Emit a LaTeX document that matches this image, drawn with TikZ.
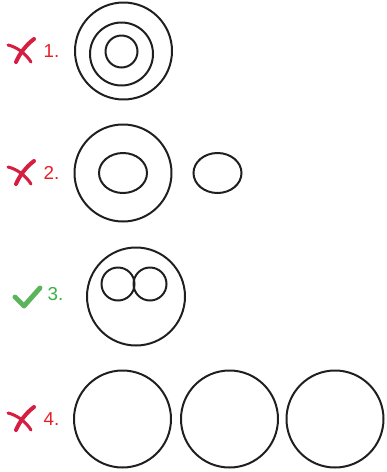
\documentclass[tikz,border=0pt]{standalone}
\usepackage{fontspec}
\setmainfont{Liberation Sans}
\definecolor{wrongred}{RGB}{232,30,38}
\definecolor{crossred}{RGB}{214,30,64}
\definecolor{rightgreen}{RGB}{56,178,70}
\definecolor{tickgreen}{RGB}{92,180,90}

\begin{document}
\begin{tikzpicture}[x=0.03cm, y=-0.03cm,
  ring/.style={line width=1.7pt, black!88},
  num/.style={anchor=west, inner sep=0pt, font=\fontsize{16}{18}\selectfont},
  crossmark/.style={crossred, line width=3.4pt, line cap=round},
  tickmark/.style={tickgreen, line width=4.2pt, line cap=round, line join=round}]
  \useasboundingbox (0,0) rectangle (386,472);

  % krížiky pri zlých možnostiach
  \foreach \r/\n in {51/1, 173/2, 419/4} {
    \begin{scope}[shift={(0,\r)}]
      \draw[crossmark] (34,-12) .. controls (26,-6) and (20,2) .. (16,11);
      \draw[crossmark, line width=2.6pt] (8,-6) .. controls (17,-4) and (26,3) .. (31,11);
    \end{scope}
    \node[num, wrongred] (n\n) at (43.5,\r) {\n.};
  }

  % fajka pri správnej možnosti
  \draw[tickmark] (15,297) -- (24,306) -- (40,288);
  \node[num, rightgreen] (n3) at (47.5,294.5) {3.};

  % 1. sústredné kružnice
  \draw[ring] (123.5,51) circle (48.5);
  \draw[ring] (121.5,54) circle (31.5);
  \draw[ring] (121.5,51.5) circle (16);

  % 2. elipsa vnútri a elipsa vedľa
  \draw[ring] (123,173) circle (48.5);
  \draw[ring] (123,173) ellipse (24 and 20);
  \draw[ring] (217.5,173) ellipse (24 and 20);

  % 3. dve kružnice vnútri
  \draw[ring] (136,296.5) circle (49);
  \foreach \x in {118, 150}
    \draw[ring] (\x,284) circle (16.5);

  % 4. tri samostatné kružnice
  \foreach \x in {122.5, 229.5, 335}
    \draw[ring] (\x,419) circle (48.5);

\end{tikzpicture}
\end{document}
